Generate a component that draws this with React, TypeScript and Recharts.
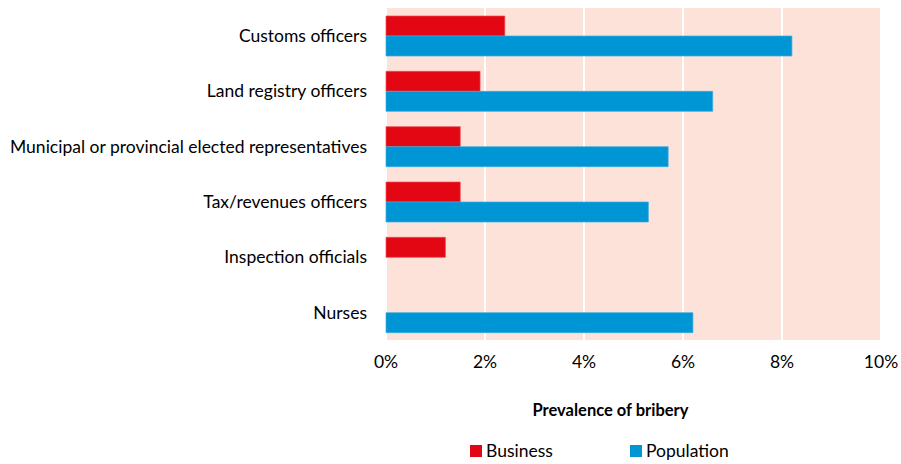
import React from 'react';
import { BarChart, Bar, XAxis, YAxis, CartesianGrid, Label } from 'recharts';

const categories = [
  'Customs officers',
  'Land registry officers',
  'Municipal or provincial elected representatives',
  'Tax/revenues officers',
  'Inspection officials',
  'Nurses',
];
const business: (number | null)[] = [2.4, 1.9, 1.5, 1.5, 1.2, null];
const population: (number | null)[] = [8.2, 6.6, 5.7, 5.3, null, 6.2];
const xTicks = [0, 2, 4, 6, 8, 10];
const seriesNames = ['Business', 'Population'];
const seriesColors = ['#E30613', '#0096D6'];
const axisTitle = 'Prevalence of bribery';

const data = categories.map((c, i) => ({ name: c, business: business[i], population: population[i] }));

const FONT = 'Lato, sans-serif';
const FS = 17.5;

export default function App() {
  return (
    <div style={{ position: 'absolute', left: 0, top: 0, width: 901, height: 464, background: '#fff', fontFamily: FONT }}>
      <BarChart
        width={901}
        height={464}
        data={data}
        layout="vertical"
        margin={{ top: 8, right: 20, bottom: 54, left: 0 }}
        barGap={0}
        barSize={20}
      >
        <CartesianGrid horizontal={false} vertical={true} stroke="#ffffff" strokeWidth={2} fill="#FCE2D9" />
        <XAxis
          type="number"
          domain={[0, 10]}
          ticks={xTicks}
          tickFormatter={(v: number) => `${v}%`}
          axisLine={false}
          tickLine={false}
          tickMargin={10}
          height={70}
          tick={{ fill: '#000', fontSize: FS, fontFamily: FONT }}
          interval={0}
        >
          <Label
            value={axisTitle}
            position="insideBottom"
            offset={-6}
            dx={-23}
            style={{ fill: '#000', fontSize: 16.5, fontWeight: 700, fontFamily: FONT }}
          />
        </XAxis>
        <YAxis
          type="category"
          dataKey="name"
          width={386}
          axisLine={false}
          tickLine={false}
          tickMargin={13}
          tick={{ fill: '#000', fontSize: FS, fontFamily: FONT }}
          interval={0}
        />
        <Bar dataKey="business" name={seriesNames[0]} fill={seriesColors[0]} stroke="#EE4A55" strokeWidth={0.7} isAnimationActive={false} />
        <Bar dataKey="population" name={seriesNames[1]} fill={seriesColors[1]} stroke="#3AAEE0" strokeWidth={0.7} isAnimationActive={false} />
      </BarChart>
      <div style={{ position: 'absolute', top: 440, left: 470, display: 'flex', alignItems: 'center', fontSize: FS, color: '#000', fontFamily: FONT }}>
        <span style={{ display: 'inline-block', width: 12, height: 12, background: seriesColors[0], marginRight: 4 }} />
        <span>{seriesNames[0]}</span>
      </div>
      <div style={{ position: 'absolute', top: 440, left: 630, display: 'flex', alignItems: 'center', fontSize: FS, color: '#000', fontFamily: FONT }}>
        <span style={{ display: 'inline-block', width: 12, height: 12, background: seriesColors[1], marginRight: 4 }} />
        <span>{seriesNames[1]}</span>
      </div>
    </div>
  );
}
